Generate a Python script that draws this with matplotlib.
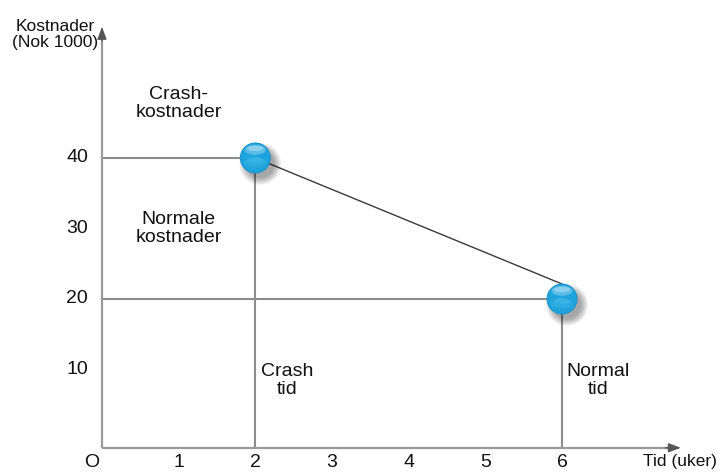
import matplotlib
matplotlib.use("Agg")
import matplotlib.pyplot as plt
import matplotlib.transforms as mtransforms
from matplotlib.patches import Circle, Ellipse

plt.rcParams["font.family"] = ["Liberation Sans", "DejaVu Sans"]

# Time (weeks) and cost (NOK 1000) at the crash point and the normal point
crash_time, crash_cost = 2, 40
normal_time, normal_cost = 6, 20
point_times = [crash_time, normal_time]
point_costs = [crash_cost, normal_cost]

x_ticks = [1, 2, 3, 4, 5, 6]
y_ticks = [10, 20, 30, 40]

x_label = "Tid (uker)"
y_label = "Kostnader\n(Nok 1000)"

fig = plt.figure(figsize=(7.2, 4.75), dpi=100)
ax = fig.add_axes([0, 0, 1, 1])
ax.set_xlim(-1.33, 8.06)
ax.set_ylim(-4.96, 62.4)
ax.axis("off")

axis_base = -1.1      # where the time axis is drawn
x_end, y_end = 7.55, 58.6
axis_color = "#9a9a9a"
head_color = "#555555"
guide_color = "#8c8c8c"
text_color = "#111111"

# axes with arrow heads
ax.plot([0, x_end - 0.12], [axis_base, axis_base], color=axis_color, lw=1.6,
        solid_capstyle="butt", zorder=2)
ax.plot([0, 0], [axis_base, y_end - 1.3], color=axis_color, lw=1.6,
        solid_capstyle="butt", zorder=2)
arrow_style = "-|>,head_length=0.75,head_width=0.28"
ax.annotate("", xy=(x_end, axis_base), xytext=(x_end - 0.2, axis_base),
            arrowprops=dict(arrowstyle=arrow_style, color=head_color, lw=1.0,
                            shrinkA=0, shrinkB=0), zorder=3)
ax.annotate("", xy=(0, y_end), xytext=(0, y_end - 2.0),
            arrowprops=dict(arrowstyle=arrow_style, color=head_color, lw=1.0,
                            shrinkA=0, shrinkB=0), zorder=3)

# guide lines from the points to the axes
for t, c in zip(point_times, point_costs):
    ax.plot([0, t], [c, c], color=guide_color, lw=1.5, zorder=1)
    ax.plot([t, t], [axis_base, c], color=guide_color, lw=1.5, zorder=1)

# cost slope between crash and normal point (ends at the top of the ball)
radius_in = 0.15
top_of_ball = ax.transData + mtransforms.ScaledTranslation(0, radius_in, fig.dpi_scale_trans)
ax.annotate("", xy=(normal_time, normal_cost), xycoords=top_of_ball,
            xytext=(crash_time, crash_cost), textcoords="data",
            arrowprops=dict(arrowstyle="-", color="#3a3a3a", lw=1.0,
                            shrinkA=0, shrinkB=0), zorder=2)

# glossy balls with soft drop shadow
for t, c in zip(point_times, point_costs):
    trans = fig.dpi_scale_trans + mtransforms.ScaledTranslation(t, c, ax.transData)
    for i in range(10):
        r = radius_in + 0.06 - i * 0.008
        ax.add_patch(Circle((0.05, -0.06), r, transform=trans, color="black",
                            alpha=0.04, lw=0, zorder=4))
    ax.add_patch(Circle((0, 0), radius_in, transform=trans, facecolor="#1ea3dc",
                        edgecolor="#1b90c8", lw=0.7, zorder=5))
    # soft lighter lower half
    for i in range(5):
        ax.add_patch(Ellipse((0, -0.05 + i * 0.01), 0.24 - i * 0.03, 0.1 - i * 0.012,
                             transform=trans, facecolor="#5cc8f2", alpha=0.12,
                             lw=0, zorder=6))
    # top gloss band
    ax.add_patch(Ellipse((0, 0.082), 0.21, 0.1, transform=trans,
                         facecolor="white", alpha=0.28, lw=0, zorder=7))
    ax.add_patch(Ellipse((0, 0.095), 0.16, 0.055, transform=trans,
                         facecolor="white", alpha=0.3, lw=0, zorder=7))

# tick labels
tick_fs = 14
for t in x_ticks:
    ax.text(t, -3.2, str(t), ha="center", va="center", fontsize=tick_fs, color=text_color)
ax.text(-0.14, -3.2, "O", ha="center", va="center", fontsize=tick_fs, color=text_color)
for c in y_ticks:
    ax.text(-0.18, c, str(c), ha="right", va="center", fontsize=tick_fs, color=text_color)

# axis titles
ax.text(-0.61, 57.5, y_label, ha="center", va="center", fontsize=12.5,
        color=text_color, linespacing=1.15)
ax.text(7.54, -3.0, x_label, ha="center", va="center", fontsize=12.5, color=text_color)

# region annotations
ann_fs = 14
ax.text(1.0, 47.7, "Crash-\nkostnader", ha="center", va="center", fontsize=ann_fs,
        color=text_color, linespacing=1.1)
ax.text(1.0, 30.0, "Normale\nkostnader", ha="center", va="center", fontsize=ann_fs,
        color=text_color, linespacing=1.1)
ax.text(crash_time + 0.41, 8.4, "Crash\ntid", ha="center", va="center", fontsize=ann_fs,
        color=text_color, linespacing=1.1)
ax.text(normal_time + 0.47, 8.4, "Normal\ntid", ha="center", va="center", fontsize=ann_fs,
        color=text_color, linespacing=1.1)

fig.savefig("out.png", dpi=100)
